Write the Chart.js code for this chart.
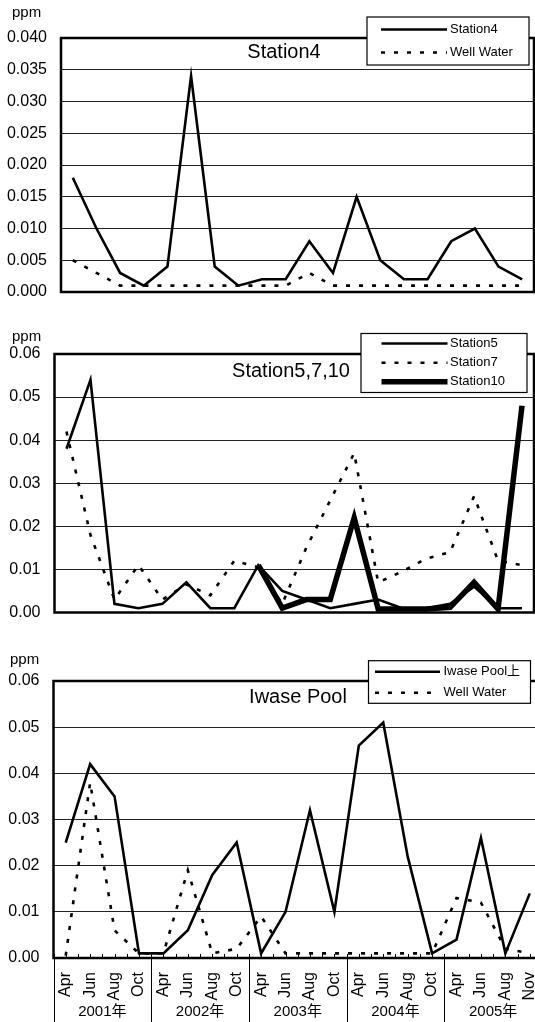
<!DOCTYPE html>
<html>
<head>
<meta charset="utf-8">
<script src="https://cdn.jsdelivr.net/npm/chart.js@4.4.1/dist/chart.umd.min.js"></script>
<style>
  html, body { margin: 0; padding: 0; background: #fff; overflow: hidden; }
  #wrap { position: relative; width: 545px; height: 1022px; }
  canvas { position: absolute; left: 0; }
</style>
</head>
<body>
<div id="wrap">
  <canvas id="c1" width="545" height="300" style="top:0px"></canvas>
  <canvas id="c2" width="545" height="320" style="top:300px"></canvas>
  <canvas id="c3" width="545" height="402" style="top:620px"></canvas>
</div>
<script>
// x categories (same for all 3 panels)
var months = ['Apr','Jun','Aug','Oct','Apr','Jun','Aug','Oct','Apr','Jun','Aug','Oct',
              'Apr','Jun','Aug','Oct','Apr','Jun','Aug','Nov'];
var years = ['2001年','2002年','2003年','2004年','2005年'];

// panel 1 - Station4
var station4   = [0.018,0.010,0.003,0.001,0.004,0.034,0.004,0.001,0.002,0.002,
                  0.008,0.003,0.015,0.005,0.002,0.002,0.008,0.010,0.004,0.002];
var wellWater4 = [0.005,0.003,0.001,0.001,0.001,0.001,0.001,0.001,0.001,0.001,
                  0.003,0.001,0.001,0.001,0.001,0.001,0.001,0.001,0.001,0.001];

// panel 2 - Station5,7,10
var station5  = [0.038,0.054,0.002,0.001,0.002,0.007,0.001,0.001,0.011,0.005,
                 0.003,0.001,0.002,0.003,0.001,0.001,0.002,0.006,0.001,0.001];
var station7  = [0.042,0.018,0.003,0.011,0.003,0.0065,0.004,0.012,0.0105,0.002,
                 0.015,0.026,0.037,0.007,0.0095,0.0125,0.014,0.027,0.012,0.011];
var station10 = [null,null,null,null,null,null,null,null,0.011,0.001,
                 0.003,0.003,0.022,0.0008,0.0008,0.0008,0.0012,0.007,0.0008,0.048];

// panel 3 - Iwase Pool
var iwasePool  = [0.025,0.042,0.035,0.001,0.001,0.006,0.018,0.025,0.001,0.010,
                  0.032,0.010,0.046,0.051,0.022,0.001,0.004,0.026,0.001,0.014];
var wellWaterI = [0.0005,0.038,0.006,0.001,0.001,0.019,0.001,0.002,0.009,0.001,
                  0.001,0.001,0.001,0.001,0.001,0.001,0.013,0.012,0.002,0.001];

var FONT = '"Liberation Sans", Arial, "Noto Sans CJK JP", sans-serif';
Chart.defaults.font.family = FONT;
Chart.defaults.color = '#000';
Chart.defaults.animation = false;

// frame round the plot area
var framePlugin = {
    id: 'frame',
    afterDatasetsDraw: function(chart) {
        var ctx = chart.ctx, a = chart.chartArea;
        ctx.save();
        ctx.strokeStyle = '#000';
        ctx.lineWidth = 2.5;
        ctx.strokeRect(a.left, a.top, a.right - a.left, a.bottom - a.top);
        ctx.restore();
    }
};

// boxed legend + title inside plot + "ppm" unit
var boxLegend = {
    id: 'boxLegend',
    afterDraw: function(chart, args, o) {
        var ctx = chart.ctx;
        ctx.save();
        ctx.fillStyle = '#000';
        ctx.font = '15px ' + FONT;
        ctx.textBaseline = 'middle';
        ctx.textAlign = 'left';
        ctx.fillText('ppm', o.ppm[0], o.ppm[1]);

        ctx.font = '20px ' + FONT;
        ctx.textAlign = 'center';
        ctx.fillText(o.title, o.titlePos[0], o.titlePos[1]);

        var b = o.box;
        ctx.fillStyle = '#fff';
        ctx.fillRect(b[0], b[1], b[2], b[3]);
        ctx.strokeStyle = '#000';
        ctx.lineWidth = 1.2;
        ctx.strokeRect(b[0], b[1], b[2], b[3]);
        ctx.fillStyle = '#000';
        ctx.font = '13px ' + FONT;
        ctx.textAlign = 'left';
        chart.data.datasets.forEach(function(ds, i) {
            var y = o.rows[i];
            ctx.beginPath();
            ctx.lineWidth = ds.borderWidth;
            ctx.setLineDash(ds.borderDash || []);
            ctx.moveTo(o.lineX[0], y);
            ctx.lineTo(o.lineX[1], y);
            ctx.stroke();
            ctx.setLineDash([]);
            ctx.fillText(ds.label, o.textX, y);
        });
        ctx.restore();
    }
};

// year groups under the month labels (panel 3 only)
var yearGroups = {
    id: 'yearGroups',
    afterDraw: function(chart, args, o) {
        if (!o.on) return;
        var ctx = chart.ctx, x = chart.scales.x, a = chart.chartArea;
        ctx.save();
        ctx.strokeStyle = '#000';
        ctx.lineWidth = 1;
        // small ticks inside the plot on the axis
        for (var k = -0.5; k <= months.length - 0.5; k += 0.5) {
            var px = Math.round(x.getPixelForValue(k)) + 0.5;
            ctx.beginPath();
            ctx.moveTo(px, a.bottom);
            ctx.lineTo(px, a.bottom - 4);
            ctx.stroke();
        }
        ctx.font = '15px ' + FONT;
        ctx.fillStyle = '#000';
        ctx.textAlign = 'center';
        ctx.textBaseline = 'middle';
        for (var g = 0; g <= years.length; g++) {
            var bx = Math.round(x.getPixelForValue(g * 4 - 0.5)) + 0.5;
            ctx.beginPath();
            ctx.moveTo(bx, a.bottom);
            ctx.lineTo(bx, chart.height);
            ctx.stroke();
            if (g < years.length) {
                ctx.fillText(years[g], x.getPixelForValue(g * 4 + 1.5), o.yearY);
            }
        }
        ctx.restore();
    }
};

function solid(label, data, w) {
    return { label: label, data: data, borderColor: '#000', borderWidth: w || 2.6,
             pointRadius: 0, fill: false, tension: 0 };
}
function dashed(label, data) {
    return { label: label, data: data, borderColor: '#000', borderWidth: 2.6,
             borderDash: [4, 9], pointRadius: 0, fill: false, tension: 0 };
}

function makeChart(id, datasets, yMax, yStep, decimals, yWidth, pad, showX, legendOpts) {
    var ctx = document.getElementById(id).getContext('2d');
    return new Chart(ctx, {
        type: 'line',
        data: { labels: months, datasets: datasets },
        options: {
            responsive: false,
            devicePixelRatio: 1,
            layout: { padding: pad },
            plugins: {
                legend: { display: false },
                tooltip: { enabled: false },
                boxLegend: legendOpts,
                yearGroups: { on: showX, yearY: 392 }
            },
            scales: {
                x: {
                    type: 'category',
                    offset: true,
                    display: showX,
                    grid: { display: false },
                    border: { display: false },
                    ticks: {
                        autoSkip: false, minRotation: 90, maxRotation: 90,
                        padding: 6, font: { size: 16 }, color: '#000'
                    },
                    afterFit: function(scale) {
                        if (showX) scale.height = 64;
                        scale.paddingLeft = 0;
                        scale.paddingRight = 0;
                    }
                },
                y: {
                    min: 0, max: yMax,
                    border: { display: false },
                    grid: { color: '#222', lineWidth: 1, drawTicks: false },
                    ticks: {
                        stepSize: yStep, padding: 14, font: { size: 16 }, color: '#000',
                        callback: function(v) { return Number(v).toFixed(decimals); }
                    },
                    afterFit: function(scale) {
                        scale.width = yWidth;
                        scale.paddingTop = 0;
                        scale.paddingBottom = 0;
                    }
                }
            }
        },
        plugins: [framePlugin, boxLegend, yearGroups]
    });
}

// panel 1
makeChart('c1',
    [solid('Station4', station4), dashed('Well Water', wellWater4)],
    0.04, 0.005, 3, 61, { top: 38, right: 11, bottom: 8, left: 0 }, false,
    { ppm: [12, 13], title: 'Station4', titlePos: [284, 52],
      box: [367, 17, 162, 48], rows: [29.5, 52.5], lineX: [381, 447], textX: 450 });

// panel 2
makeChart('c2',
    [solid('Station5', station5), dashed('Station7', station7), solid('Station10', station10, 5.5)],
    0.06, 0.01, 2, 54.5, { top: 54, right: 11, bottom: 7.5, left: 0 }, false,
    { ppm: [12, 37], title: 'Station5,7,10', titlePos: [291, 71],
      box: [361, 33.5, 166, 59], rows: [43.5, 62.7, 81.7], lineX: [381.5, 447.5], textX: 450 });

// panel 3
makeChart('c3',
    [solid('Iwase Pool上', iwasePool), dashed('Well Water', wellWaterI)],
    0.06, 0.01, 2, 53.5, { top: 61, right: 3, bottom: 0, left: 0 }, true,
    { ppm: [10, 39.5], title: 'Iwase Pool', titlePos: [298, 77],
      box: [368.5, 40.7, 162, 42.6], rows: [51.7, 72.7], lineX: [375, 440], textX: 443.5 });
</script>
</body>
</html>
